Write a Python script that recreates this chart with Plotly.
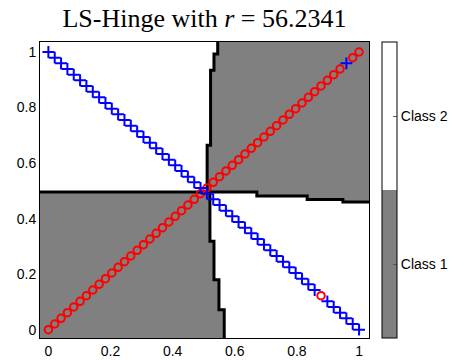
import plotly.graph_objects as go

# ---------------- data ----------------
title_text = "LS-Hinge with <i>r</i> = 56.2341"
class_names = ["Class 1", "Class 2"]
class_values = [1, 2]
tick_vals = [0, 0.2, 0.4, 0.6, 0.8, 1]
tick_text = ["0", "0.2", "0.4", "0.6", "0.8", "1"]

# sample positions along both diagonals
sample_x = [0.0000, 0.0204, 0.0408, 0.0612, 0.0816, 0.1020, 0.1224, 0.1429, 0.1633, 0.1837,
            0.2041, 0.2245, 0.2449, 0.2653, 0.2857, 0.3061, 0.3265, 0.3469, 0.3673, 0.3878,
            0.4082, 0.4286, 0.4490, 0.4694, 0.4898, 0.5102, 0.5306, 0.5510, 0.5714, 0.5918,
            0.6122, 0.6327, 0.6531, 0.6735, 0.6939, 0.7143, 0.7347, 0.7551, 0.7755, 0.7959,
            0.8163, 0.8367, 0.8571, 0.8776, 0.8980, 0.9184, 0.9388, 0.9592, 0.9796, 1.0000]
rise_y = [0.0000, 0.0204, 0.0408, 0.0612, 0.0816, 0.1020, 0.1224, 0.1429, 0.1633, 0.1837,
          0.2041, 0.2245, 0.2449, 0.2653, 0.2857, 0.3061, 0.3265, 0.3469, 0.3673, 0.3878,
          0.4082, 0.4286, 0.4490, 0.4694, 0.4898, 0.5102, 0.5306, 0.5510, 0.5714, 0.5918,
          0.6122, 0.6327, 0.6531, 0.6735, 0.6939, 0.7143, 0.7347, 0.7551, 0.7755, 0.7959,
          0.8163, 0.8367, 0.8571, 0.8776, 0.8980, 0.9184, 0.9388, 0.9592, 0.9796, 1.0000]
fall_y = [1.0000, 0.9796, 0.9592, 0.9388, 0.9184, 0.8980, 0.8776, 0.8571, 0.8367, 0.8163,
          0.7959, 0.7755, 0.7551, 0.7347, 0.7143, 0.6939, 0.6735, 0.6531, 0.6327, 0.6122,
          0.5918, 0.5714, 0.5510, 0.5306, 0.5102, 0.4898, 0.4694, 0.4490, 0.4286, 0.4082,
          0.3878, 0.3673, 0.3469, 0.3265, 0.3061, 0.2857, 0.2653, 0.2449, 0.2245, 0.2041,
          0.1837, 0.1633, 0.1429, 0.1224, 0.1020, 0.0816, 0.0612, 0.0408, 0.0204, 0.0000]
rise_class = [1, 1, 1, 1, 1, 1, 1, 1, 1, 1,
              1, 1, 1, 1, 1, 1, 1, 1, 1, 1,
              1, 1, 1, 1, 1, 1, 1, 1, 1, 1,
              1, 1, 1, 1, 1, 1, 1, 1, 1, 1,
              1, 1, 1, 1, 1, 1, 1, 2, 1, 1]
fall_class = [2, 2, 2, 2, 2, 2, 2, 2, 2, 2,
              2, 2, 2, 2, 2, 2, 2, 2, 2, 2,
              2, 2, 2, 2, 2, 2, 2, 2, 2, 2,
              2, 2, 2, 2, 2, 2, 2, 2, 2, 2,
              2, 2, 2, 1, 2, 2, 2, 2, 2, 2]

# decision boundary (step contours)
x_lim = [-0.027, 1.032]
y_lim = [-0.030, 1.036]
vb_y_breaks = [-0.030, 0.072, 0.180, 0.318, 0.496, 0.664, 0.934, 0.993, 1.036]
vb_x = [0.566, 0.549, 0.533, 0.520, 0.511, 0.522, 0.533, 0.545]
hb_x_breaks = [-0.027, 0.671, 0.833, 0.948, 1.032]
hb_y = [0.496, 0.481, 0.469, 0.460]

# ---------------- build ----------------
def seg_value(breaks, vals, v):
    for i in range(len(vals)):
        if breaks[i] <= v < breaks[i + 1]:
            return vals[i]
    return vals[-1]

xe = sorted(set(x_lim + vb_x + hb_x_breaks))
ye = sorted(set(y_lim + vb_y_breaks + hb_y))
z = []
for j in range(len(ye) - 1):
    cy = 0.5 * (ye[j] + ye[j + 1])
    row = []
    for i in range(len(xe) - 1):
        cx = 0.5 * (xe[i] + xe[i + 1])
        left = cx < seg_value(vb_y_breaks, vb_x, cy)
        above = cy > seg_value(hb_x_breaks, hb_y, cx)
        row.append(2 if left == above else 1)
    z.append(row)

gray = "#808080"
fig = go.Figure()
fig.add_trace(go.Heatmap(
    x=xe, y=ye, z=z, zmin=0.5, zmax=2.5,
    colorscale=[[0, gray], [0.5, gray], [0.5, "#ffffff"], [1, "#ffffff"]],
    hoverinfo="skip",
    colorbar=dict(
        x=(382 - 40) / 329, xanchor="left", xpad=0,
        y=0.5, yanchor="middle", ypad=0, len=1, lenmode="fraction",
        thickness=15, outlinecolor="black", outlinewidth=1,
        tickvals=class_values, ticktext=class_names,
        ticks="inside", ticklen=4, tickcolor="#555555",
        tickfont=dict(family="Liberation Sans", size=14, color="black"),
    ),
))

# boundary lines
vx, vy = [], []
for i in range(len(vb_x)):
    vx += [vb_x[i], vb_x[i]]
    vy += [vb_y_breaks[i], vb_y_breaks[i + 1]]
hx, hy = [], []
for i in range(len(hb_y)):
    hx += [hb_x_breaks[i], hb_x_breaks[i + 1]]
    hy += [hb_y[i], hb_y[i]]
for bx, by in [(vx, vy), (hx, hy)]:
    fig.add_trace(go.Scatter(x=bx, y=by, mode="lines",
                             line=dict(color="black", width=3), hoverinfo="skip"))

# samples
c1x = [sample_x[i] for i in range(len(sample_x)) if rise_class[i] == 1] + \
      [sample_x[i] for i in range(len(sample_x)) if fall_class[i] == 1]
c1y = [rise_y[i] for i in range(len(sample_x)) if rise_class[i] == 1] + \
      [fall_y[i] for i in range(len(sample_x)) if fall_class[i] == 1]
c2x = [sample_x[i] for i in range(len(sample_x)) if fall_class[i] == 2] + \
      [sample_x[i] for i in range(len(sample_x)) if rise_class[i] == 2]
c2y = [fall_y[i] for i in range(len(sample_x)) if fall_class[i] == 2] + \
      [rise_y[i] for i in range(len(sample_x)) if rise_class[i] == 2]

fig.add_trace(go.Scatter(x=c1x, y=c1y, mode="markers",
                         marker=dict(symbol="circle-open", size=7.5, color="red",
                                     line=dict(color="red", width=2))))
fig.add_trace(go.Scatter(x=c2x, y=c2y, mode="markers",
                         marker=dict(symbol="cross-thin-open", size=8.5, color="blue",
                                     line=dict(color="blue", width=2))))

axis_common = dict(showgrid=False, zeroline=False, showline=True, mirror=True,
                   linecolor="black", linewidth=1, ticks="", automargin=False,
                   tickvals=tick_vals, ticktext=tick_text,
                   tickfont=dict(family="Liberation Sans", size=14, color="black"))
fig.update_layout(
    width=467, height=360,
    margin=dict(l=40, r=98, t=42, b=22, autoexpand=False),
    paper_bgcolor="white", plot_bgcolor="white",
    showlegend=False,
    title=dict(text=title_text, x=(40 + 369) / 2 / 467, xanchor="center",
               y=1 - 18 / 360, yanchor="middle",
               font=dict(family="Liberation Serif", size=26, color="black")),
    xaxis=dict(range=x_lim, **axis_common),
    yaxis=dict(range=y_lim, **axis_common),
)
fig.write_html("out.html")
